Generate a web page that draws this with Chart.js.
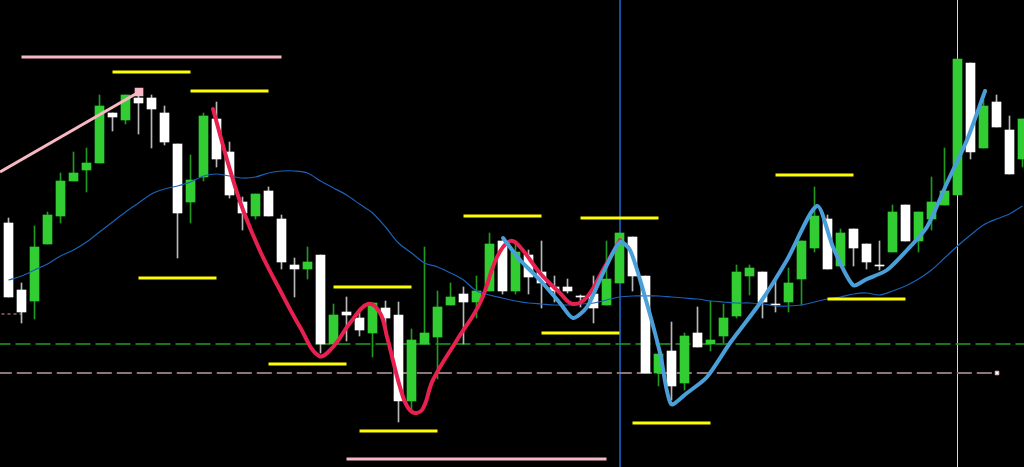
<!DOCTYPE html>
<html>
<head>
<meta charset="utf-8">
<script src="https://cdn.jsdelivr.net/npm/chart.js@4.4.1/dist/chart.umd.min.js"></script>
<style>
  html, body { margin: 0; padding: 0; background: #000; }
  #wrap { width: 1024px; height: 467px; }
</style>
</head>
<body>
<div id="wrap"><canvas id="chart" width="1024" height="467"></canvas></div>
<script>
// ===== candle data (price units, one entry per bar) =====
const openP  = [244,177,166,223,251,286,297,304,354,347,369,369,354,323,265,290,348,315,265,251,
                276,248,202,198,212,123,155,149,134,159,152,66,123,130,162,173,165,176,226,176,
                212,195,180,180,171,173,162,184,230,191,94,116,84,134,123,131,151,191,195,163,
                165,188,219,248,201,238,223,202,215,262,226,248,262,272,404,319,365,337,308];
const highP  = [249,184,241,255,294,315,319,372,354,372,374,372,361,323,312,354,365,325,270,273,
                280,252,209,220,212,163,170,154,164,166,165,138,220,176,184,180,191,234,226,223,
                217,226,191,188,172,191,226,234,230,191,113,145,134,160,166,163,202,202,195,188,
                199,226,280,252,238,238,223,226,262,262,255,290,319,408,404,367,372,351,348];
const lowP   = [170,144,148,223,244,286,275,304,336,343,333,319,322,209,244,286,300,269,237,248,
                251,198,170,188,114,123,126,131,110,140,45,57,123,88,162,123,149,176,173,173,
                173,159,165,174,160,144,162,184,176,94,81,67,77,120,116,124,149,172,149,155,
                155,162,215,198,201,201,198,197,215,226,215,237,262,272,308,319,340,293,300];
const closeP = [170,155,220,252,286,294,304,361,350,372,364,358,325,254,287,351,308,272,254,273,
                251,205,198,205,123,152,152,137,164,149,66,127,134,160,170,165,176,223,176,215,
                190,184,176,176,170,159,188,234,191,94,113,81,131,120,127,149,195,199,165,162,
                184,226,251,198,234,219,205,201,255,226,255,265,276,408,315,361,340,293,348];
const maP    = [187,191,197,203,211,217,225,235,245,255,264,273,278,281,285,291,293,291,289,290,
                294,296,296,294,286,279,272,263,254,240,224,214,204,200,194,187,176,172,169,166,
                164,163,162,162,163,164,167,170,171,171,171,170,169,168,166,165,164,164,163,161,
                161,162,165,168,170,173,174,172,176,181,188,197,209,221,232,242,248,253,261];

// ===== drawn swing curves (bar index, price) =====
const redX  = [15.73,17.04,18.04,19.35,20.88,22.42,23.88,24.96,26.27,27.65,28.58,29.12,30.35,31.04,
               31.81,32.65,34.5,36.27,37.58,38.58,39.35,40.88,42.42,43.42,44.5,45.73,47.04];
const redY  = [358,297,257,216,177,140,111,120,144,163,154,130,70,55,
               57,87,127,164,210,226,220,194,174,163,170,197,227];
const blueX = [38.04,39.35,40.88,42.42,43.42,44.5,45.73,47.04,47.81,48.81,50.12,50.96,52.19,53.73,
               55.5,57.81,59.88,62.19,63.42,64.96,66.04,67.58,69.12,70.65,72.19,73.73,75.12];
const blueY = [229,207,187,164,149,160,194,225,217,177,114,63,74,90,
               124,164,207,261,220,182,188,197,217,240,284,327,376];

// ===== horizontal levels =====
const yellowStart = [8,14,10,20,25,27,35,41,44,48,59,63];
const yellowPrice = [395,376,189,103,180,36,251,134,249,44,292,168];
const pinkStart   = [1,26];
const pinkEnd     = [21,46];
const pinkPrice   = [410,8];
const trendX      = [-0.65,10.04];
const trendY      = [295,375];
const greenDash   = 123;
const grayDash    = 94;
const grayDashEnd = 76.04;
const vLines      = [47.04,73];

const GREEN = '#32cd32';
const WHITE = '#ffffff';

function seg(xs, ys) {
  return xs.map((x, i) => ({ x: x, y: ys[i] }));
}

const datasets = [];

// wicks
datasets.push({
  type: 'bar',
  data: lowP.map((l, i) => ({ x: i, y: [l, highP[i]] })),
  backgroundColor: closeP.map((c, i) => c > openP[i] ? '#1f9a1f' : '#b8b8b8'),
  barThickness: 1,
  grouped: false,
  order: 6
});
// bodies
datasets.push({
  type: 'bar',
  data: openP.map((o, i) => ({ x: i, y: [o, closeP[i]] })),
  backgroundColor: closeP.map((c, i) => c > openP[i] ? GREEN : WHITE),
  barThickness: 9,
  grouped: false,
  minBarLength: 1,
  order: 5
});
// moving average
datasets.push({
  type: 'line',
  data: maP.map((v, i) => ({ x: i, y: v })),
  borderColor: '#1a62b8',
  borderWidth: 1.2,
  tension: 0.3,
  order: 4
});
// vertical markers
vLines.forEach((x, k) => {
  datasets.push({
    type: 'line',
    data: [{ x: x, y: 0 }, { x: x, y: 467 }],
    borderColor: k === 0 ? '#1c62c4' : '#d8d8d8',
    borderWidth: k === 0 ? 1.6 : 1,
    order: 8
  });
});
// dashed levels
datasets.push({
  type: 'line',
  data: [{ x: -1, y: greenDash }, { x: 79, y: greenDash }],
  borderColor: '#20a020',
  borderWidth: 1.3,
  borderDash: [15, 5],
  order: 7
});
datasets.push({
  type: 'line',
  data: [{ x: -0.9, y: grayDash }, { x: grayDashEnd, y: grayDash }],
  borderColor: '#8c7679',
  borderWidth: 2,
  borderDash: [15, 5],
  order: 7
});
datasets.push({
  type: 'line',
  data: [{ x: grayDashEnd, y: grayDash }],
  pointStyle: 'rect',
  pointRadius: 2.5,
  pointBorderWidth: 1,
  pointBackgroundColor: '#ffffff',
  pointBorderColor: '#e8b8c0',
  showLine: false,
  order: 3
});
datasets.push({
  type: 'line',
  data: [{ x: -1, y: 153 }, { x: 1, y: 153 }],
  borderColor: '#d49aa6',
  borderWidth: 1,
  borderDash: [3, 3],
  order: 3
});
// yellow levels
yellowStart.forEach((s, k) => {
  datasets.push({
    type: 'line',
    data: [{ x: s, y: yellowPrice[k] }, { x: s + 6, y: yellowPrice[k] }],
    borderColor: '#ffff00',
    borderWidth: 3,
    order: 3
  });
});
// pink levels
pinkStart.forEach((s, k) => {
  datasets.push({
    type: 'line',
    data: [{ x: s, y: pinkPrice[k] }, { x: pinkEnd[k], y: pinkPrice[k] }],
    borderColor: '#f7b8c4',
    borderWidth: 3,
    order: 3
  });
});
datasets.push({
  type: 'line',
  data: seg(trendX, trendY),
  borderColor: '#f7b8c4',
  borderWidth: 3,
  pointStyle: 'rect',
  pointRadius: [0, 4],
  pointBackgroundColor: '#f7b8c4',
  pointBorderColor: '#f7b8c4',
  order: 3
});
// swing curves
datasets.push({
  type: 'line',
  data: seg(redX, redY),
  borderColor: '#e8204f',
  borderWidth: 4,
  tension: 0.4,
  borderCapStyle: 'round',
  borderJoinStyle: 'round',
  order: 2
});
datasets.push({
  type: 'line',
  data: seg(blueX, blueY),
  borderColor: '#4a9fd8',
  borderWidth: 4,
  tension: 0.25,
  borderCapStyle: 'round',
  borderJoinStyle: 'round',
  order: 1
});

new Chart(document.getElementById('chart'), {
  type: 'bar',
  data: { datasets: datasets },
  options: {
    responsive: false,
    animation: false,
    devicePixelRatio: 1,
    layout: { padding: 0, autoPadding: false },
    elements: { point: { radius: 0, hoverRadius: 0 } },
    plugins: { legend: { display: false }, tooltip: { enabled: false } },
    scales: {
      x: { type: 'linear', min: -0.654, max: 78.115, offset: false, display: false },
      y: { min: 0, max: 467, display: false }
    }
  }
});
</script>
</body>
</html>
